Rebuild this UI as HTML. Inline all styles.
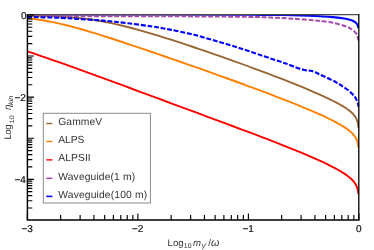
<!DOCTYPE html>
<html><head><meta charset="utf-8"><title>plot</title>
<style>
html,body{margin:0;padding:0;background:#fff;}
svg{display:block;will-change:transform;}
text{font-family:"Liberation Sans",sans-serif;fill:#333;text-rendering:geometricPrecision;}
text.tl{fill:#111;stroke:#111;stroke-width:0.2px;}
</style></head><body>
<svg width="374" height="250" viewBox="0 0 374 250">
<rect width="374" height="250" fill="#fff"/>
<clipPath id="c"><rect x="27.40" y="14.00" width="332.10" height="206.00"/></clipPath>
<g stroke-linejoin="round" clip-path="url(#c)">
<path d="M27.20 14.45 C47.67 14.45 116.20 14.42 150.00 14.45 C183.80 14.47 211.67 14.53 230.00 14.60 C248.33 14.67 251.67 14.77 260.00 14.85 C268.33 14.93 273.33 14.95 280.00 15.05 C286.67 15.15 293.33 15.24 300.00 15.45 C306.67 15.66 314.53 16.02 320.00 16.30 C325.47 16.58 328.52 16.68 332.80 17.10 C337.08 17.52 342.48 18.22 345.70 18.80 C348.92 19.38 350.40 19.93 352.10 20.60 C353.80 21.27 354.98 22.03 355.90 22.80 C356.82 23.57 357.18 24.33 357.60 25.20 C358.02 26.07 358.27 27.53 358.40 28.00" fill="none" stroke="#0000ff" stroke-width="2.1"/>
<path d="M27.40 15.62 L34.28 15.78 L41.15 15.95 L48.03 16.15 L54.91 16.40 L61.79 16.73 L68.66 17.16 L75.54 17.71 L82.42 18.41 L89.30 19.26 L96.17 20.28 L103.05 21.47 L109.93 22.83 L116.80 24.33 L123.68 25.98 L130.56 27.74 L137.44 29.61 L144.31 31.56 L151.19 33.59 L158.07 35.68 L164.95 37.81 L171.82 39.99 L178.70 42.21 L185.58 44.47 L192.45 46.75 L199.33 49.06 L206.21 51.40 L213.09 53.77 L219.96 56.16 L226.84 58.58 L233.72 61.02 L240.60 63.50 L247.47 66.00 L254.35 68.53 L261.23 71.08 L268.10 73.68 L274.98 76.30 L281.86 78.96 L288.74 81.66 L295.61 84.41 L302.49 87.21 L309.37 90.08 L316.25 93.04 L323.12 96.10 L330.00 99.33 L332.89 100.75 L335.50 102.08 L337.84 103.32 L339.95 104.48 L341.84 105.58 L343.55 106.61 L345.09 107.58 L346.47 108.50 L347.71 109.38 L348.83 110.22 L349.84 111.01 L350.75 111.78 L351.56 112.52 L352.30 113.23 L352.96 113.91 L353.55 114.58 L354.09 115.22 L354.57 115.85 L355.00 116.46 L355.39 117.06 L355.74 117.64 L356.06 118.22 L356.34 118.78 L356.60 119.33 L356.83 119.88 L357.04 120.42 L357.22 120.95 L357.39 121.48 L357.54 122.00 L357.68 122.51 L357.80 123.02 L357.91 123.53 L358.01 124.03 L358.10 124.53 L358.18 125.03 L358.25 125.53 L358.32 126.02 L358.37 126.51 L358.43 127.00 L358.47 127.49 L358.52 127.97" fill="none" stroke="#996633" stroke-width="1.85"/>
<path d="M27.40 18.15 L34.28 18.98 L41.15 19.99 L48.03 21.19 L54.91 22.56 L61.79 24.10 L68.66 25.78 L75.54 27.60 L82.42 29.53 L89.30 31.55 L96.17 33.64 L103.05 35.80 L109.93 38.00 L116.80 40.24 L123.68 42.50 L130.56 44.79 L137.44 47.11 L144.31 49.43 L151.19 51.77 L158.07 54.13 L164.95 56.49 L171.82 58.86 L178.70 61.25 L185.58 63.64 L192.45 66.05 L199.33 68.46 L206.21 70.89 L213.09 73.33 L219.96 75.79 L226.84 78.26 L233.72 80.75 L240.60 83.25 L247.47 85.77 L254.35 88.32 L261.23 90.89 L268.10 93.48 L274.98 96.11 L281.86 98.77 L288.74 101.47 L295.61 104.22 L302.49 107.03 L309.37 109.91 L316.25 112.88 L323.12 115.97 L330.00 119.24 L332.89 120.69 L335.50 122.04 L337.84 123.30 L339.95 124.48 L341.84 125.60 L343.55 126.65 L345.09 127.64 L346.47 128.58 L347.71 129.47 L348.83 130.33 L349.84 131.14 L350.75 131.92 L351.56 132.67 L352.30 133.39 L352.96 134.09 L353.55 134.76 L354.09 135.42 L354.57 136.05 L355.00 136.67 L355.39 137.28 L355.74 137.87 L356.06 138.45 L356.34 139.02 L356.60 139.58 L356.83 140.13 L357.04 140.67 L357.22 141.20 L357.39 141.73 L357.54 142.26 L357.68 142.77 L357.80 143.29 L357.91 143.80 L358.01 144.30 L358.10 144.80 L358.18 145.30 L358.25 145.80 L358.32 146.29 L358.37 146.79 L358.43 147.28 L358.47 147.76" fill="none" stroke="#ff8000" stroke-width="1.9"/>
<path d="M27.40 51.44 L34.28 53.72 L41.15 56.05 L48.03 58.40 L54.91 60.79 L61.79 63.21 L68.66 65.65 L75.54 68.11 L82.42 70.59 L89.30 73.09 L96.17 75.59 L103.05 78.11 L109.93 80.64 L116.80 83.18 L123.68 85.72 L130.56 88.26 L137.44 90.81 L144.31 93.36 L151.19 95.91 L158.07 98.45 L164.95 101.00 L171.82 103.55 L178.70 106.10 L185.58 108.64 L192.45 111.19 L199.33 113.73 L206.21 116.28 L213.09 118.82 L219.96 121.37 L226.84 123.93 L233.72 126.49 L240.60 129.06 L247.47 131.64 L254.35 134.23 L261.23 136.84 L268.10 139.47 L274.98 142.13 L281.86 144.82 L288.74 147.55 L295.61 150.33 L302.49 153.16 L309.37 156.08 L316.25 159.09 L323.12 162.23 L330.00 165.56 L332.89 167.04 L335.50 168.42 L337.84 169.71 L339.95 170.92 L341.84 172.06 L343.55 173.13 L345.09 174.15 L346.47 175.11 L347.71 176.02 L348.83 176.89 L349.84 177.72 L350.75 178.52 L351.56 179.28 L352.30 180.02 L352.96 180.73 L353.55 181.41 L354.09 182.08 L354.57 182.72 L355.00 183.35 L355.39 183.96 L355.74 184.56 L356.06 185.15 L356.34 185.72 L356.60 186.29 L356.83 186.84 L357.04 187.39 L357.22 187.93 L357.39 188.46 L357.54 188.99 L357.68 189.51 L357.80 190.03 L357.91 190.54 L358.01 191.04 L358.10 191.55 L358.18 192.05 L358.25 192.55 L358.32 193.04 L358.37 193.54 L358.43 194.03" fill="none" stroke="#ff0000" stroke-width="1.9"/>
<path d="M27.20 16.10 C51.83 16.13 137.87 16.17 175.00 16.30 C212.13 16.43 233.90 16.68 250.00 16.90 C266.10 17.12 264.40 17.30 271.60 17.60 C278.80 17.90 285.98 18.23 293.20 18.70 C300.42 19.17 310.43 20.02 314.90 20.40 C319.37 20.78 317.02 20.60 320.00 21.00 C322.98 21.40 328.52 21.92 332.80 22.80 C337.08 23.68 342.48 25.18 345.70 26.30 C348.92 27.42 350.40 28.35 352.10 29.50 C353.80 30.65 354.98 32.07 355.90 33.20 C356.82 34.33 357.20 35.13 357.60 36.30 C358.00 37.47 358.18 39.55 358.30 40.20" fill="none" stroke="#a74aac" stroke-width="2.0" stroke-dasharray="4.8 1.9"/>
<path d="M27.20 16.90 C32.67 17.05 50.37 17.38 60.00 17.80 C69.63 18.22 77.17 18.87 85.00 19.40 C92.83 19.93 99.82 20.35 107.00 21.00 C114.18 21.65 120.57 22.38 128.10 23.30 C135.63 24.22 145.22 25.45 152.20 26.50 C159.18 27.55 163.02 28.22 170.00 29.60 C176.98 30.98 186.08 32.80 194.10 34.80 C202.12 36.80 210.08 39.25 218.10 41.60 C226.12 43.95 234.53 46.45 242.20 48.90 C249.87 51.35 257.80 54.18 264.10 56.30 C270.40 58.42 276.02 60.27 280.00 61.60 C283.98 62.93 285.33 63.32 288.00 64.30 C290.67 65.28 293.32 66.57 296.00 67.50 C298.68 68.43 301.68 69.35 304.10 69.90 C306.52 70.45 308.63 70.40 310.50 70.80 C312.37 71.20 313.70 71.67 315.30 72.30 C316.90 72.93 317.97 73.60 320.10 74.60 C322.23 75.60 325.42 77.02 328.10 78.30 C330.78 79.58 333.93 81.05 336.20 82.30 C338.47 83.55 339.58 84.38 341.70 85.80 C343.82 87.22 346.73 89.00 348.90 90.80 C351.07 92.60 353.30 94.78 354.70 96.60 C356.10 98.42 356.73 100.47 357.30 101.70 C357.87 102.93 357.92 103.17 358.10 104.00 C358.28 104.83 358.35 106.25 358.40 106.70" fill="none" stroke="#0000ff" stroke-width="2.1" stroke-dasharray="4.9 1.8"/>
</g>
<path d="M27.40 14.10 V220.00 H359.50" fill="none" stroke="#000" stroke-width="1.45"/>
<path d="M27.40 14.60 H358.80" fill="none" stroke="#4a4a4a" stroke-width="1.2"/><path d="M358.80 14.10 V220.00" fill="none" stroke="#000" stroke-width="1.3"/>
<path d="M27.40 14.90 h6.6 M27.40 43.63 h4.9 M27.40 36.39 h4.9 M27.40 31.26 h4.9 M27.40 27.27 h4.9 M27.40 24.02 h4.9 M27.40 21.27 h4.9 M27.40 18.88 h4.9 M27.40 16.78 h4.9 M27.40 56.00 h6.6 M27.40 84.73 h4.9 M27.40 77.49 h4.9 M27.40 72.36 h4.9 M27.40 68.37 h4.9 M27.40 65.12 h4.9 M27.40 62.37 h4.9 M27.40 59.98 h4.9 M27.40 57.88 h4.9 M27.40 97.10 h6.6 M27.40 125.83 h4.9 M27.40 118.59 h4.9 M27.40 113.46 h4.9 M27.40 109.47 h4.9 M27.40 106.22 h4.9 M27.40 103.47 h4.9 M27.40 101.08 h4.9 M27.40 98.98 h4.9 M27.40 138.20 h6.6 M27.40 166.93 h4.9 M27.40 159.69 h4.9 M27.40 154.56 h4.9 M27.40 150.57 h4.9 M27.40 147.32 h4.9 M27.40 144.57 h4.9 M27.40 142.18 h4.9 M27.40 140.08 h4.9 M27.40 179.30 h6.6 M27.40 208.03 h4.9 M27.40 200.79 h4.9 M27.40 195.66 h4.9 M27.40 191.67 h4.9 M27.40 188.42 h4.9 M27.40 185.67 h4.9 M27.40 183.28 h4.9 M27.40 181.18 h4.9 M27.40 220.00 v-6.6 M60.66 220.00 v-4.9 M80.12 220.00 v-4.9 M93.93 220.00 v-4.9 M104.64 220.00 v-4.9 M113.39 220.00 v-4.9 M120.78 220.00 v-4.9 M127.19 220.00 v-4.9 M132.84 220.00 v-4.9 M137.90 220.00 v-6.6 M171.16 220.00 v-4.9 M190.62 220.00 v-4.9 M204.43 220.00 v-4.9 M215.14 220.00 v-4.9 M223.89 220.00 v-4.9 M231.28 220.00 v-4.9 M237.69 220.00 v-4.9 M243.34 220.00 v-4.9 M248.40 220.00 v-6.6 M281.66 220.00 v-4.9 M301.12 220.00 v-4.9 M314.93 220.00 v-4.9 M325.64 220.00 v-4.9 M334.39 220.00 v-4.9 M341.78 220.00 v-4.9 M348.19 220.00 v-4.9 M353.84 220.00 v-4.9 M358.90 220.00 v-6.6" fill="none" stroke="#000" stroke-width="1.15"/>
<rect x="43.3" y="113.3" width="107.1" height="89.7" fill="#fff" stroke="#8a8a8a" stroke-width="1"/>
<path d="M46.3 123.50 h6.1" stroke="#996633" stroke-width="1.4"/>
<path d="M46.3 141.50 h6.1" stroke="#ff8000" stroke-width="1.4"/>
<path d="M46.3 159.90 h6.1" stroke="#ff0000" stroke-width="1.4"/>
<path d="M46.3 178.30 h6.1" stroke="#a838b0" stroke-width="1.4"/>
<path d="M46.3 196.40 h6.1" stroke="#0000ff" stroke-width="1.6"/>
<g style="filter:grayscale(1)">
<text class="tl" x="26.50" y="18.50" text-anchor="end" font-size="10">0</text>
<text class="tl" x="25.90" y="100.70" text-anchor="end" font-size="10">−2</text>
<text class="tl" x="25.90" y="182.90" text-anchor="end" font-size="10">−4</text>
<text class="tl" x="27.10" y="231.90" text-anchor="middle" font-size="10">−3</text>
<text class="tl" x="137.60" y="231.90" text-anchor="middle" font-size="10">−2</text>
<text class="tl" x="248.10" y="231.90" text-anchor="middle" font-size="10">−1</text>
<text class="tl" x="358.70" y="231.90" text-anchor="middle" font-size="10">0</text>
<text x="58.3" y="124.80" font-size="10.3" textLength="43.8">GammeV</text>
<text x="58.3" y="142.80" font-size="10.3" textLength="26.0">ALPS</text>
<text x="58.3" y="161.20" font-size="10.3" textLength="32.4">ALPSII</text>
<text x="58.3" y="179.60" font-size="10.3" textLength="76.8">Waveguide(1 m)</text>
<text x="58.3" y="197.70" font-size="10.3" textLength="88.8">Waveguide(100 m)</text>
<text y="245.7" font-size="9.6"><tspan x="167.6">Log</tspan><tspan x="183.8" y="248.4" font-size="6.9">10</tspan><tspan x="193.0" y="245.7" font-style="italic">m</tspan><tspan x="201.7" y="248.1" font-size="7.4" font-style="italic">γ</tspan><tspan x="205.3" y="247.9" font-size="7">′</tspan><tspan x="208.3" y="245.7">/</tspan><tspan x="210.9" y="245.7" font-size="10.6" font-style="italic">ω</tspan></text>
<text transform="translate(10.9 139.6) rotate(-90)" font-size="9.6"><tspan x="0" y="0" textLength="15.2">Log</tspan><tspan x="16.0" y="2.6" font-size="6.6" textLength="8.4" lengthAdjust="spacingAndGlyphs">10</tspan><tspan x="29.5" y="0" font-size="10" font-style="italic">η</tspan><tspan x="34.6" y="1.6" font-size="6.6" font-style="italic" textLength="9.4" lengthAdjust="spacingAndGlyphs">kin</tspan></text>
</g>
</svg>
</body></html>
